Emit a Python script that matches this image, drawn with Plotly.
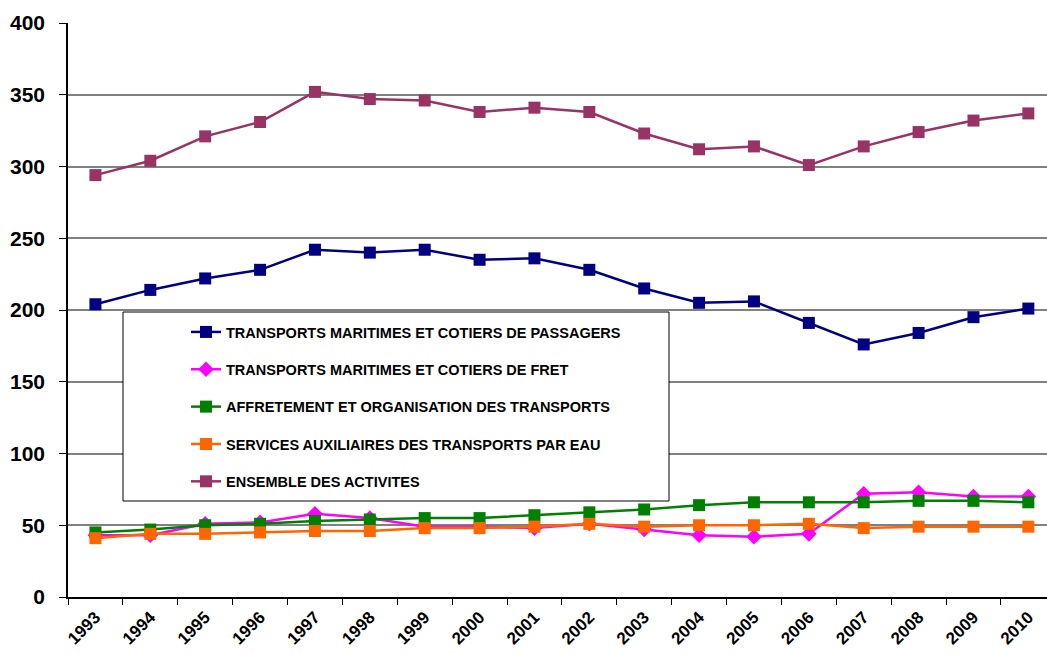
import plotly.graph_objects as go

years = [str(y) for y in range(1993, 2011)]

passagers = [204, 214, 222, 228, 242, 240, 242, 235, 236, 228, 215, 205, 206, 191, 176, 184, 195, 201]
fret = [43, 43, 51, 52, 58, 55, 49, 49, 48, 51, 47, 43, 42, 44, 72, 73, 70, 70]
affretement = [45, 47, 50, 51, 53, 54, 55, 55, 57, 59, 61, 64, 66, 66, 66, 67, 67, 66]
services = [41, 44, 44, 45, 46, 46, 48, 48, 49, 51, 49, 50, 50, 51, 48, 49, 49, 49]
ensemble = [294, 304, 321, 331, 352, 347, 346, 338, 341, 338, 323, 312, 314, 301, 314, 324, 332, 337]

names = [
    "TRANSPORTS MARITIMES ET COTIERS DE PASSAGERS",
    "TRANSPORTS MARITIMES ET COTIERS DE FRET",
    "AFFRETEMENT ET ORGANISATION DES TRANSPORTS",
    "SERVICES AUXILIAIRES DES TRANSPORTS PAR EAU",
    "ENSEMBLE DES ACTIVITES",
]
series = [passagers, fret, affretement, services, ensemble]
colors = ["#000080", "#FF00FF", "#008000", "#FF6600", "#993366"]
symbols = ["square", "diamond", "square", "square", "square"]

fig = go.Figure()
for i, (nm, vals) in enumerate(zip(names, series)):
    fig.add_trace(go.Scatter(
        x=years, y=vals, name=nm, mode="lines+markers",
        legendgroup=str(i),
        line=dict(color=colors[i], width=2.5),
        marker=dict(symbol=symbols[i], size=12, color=colors[i], line=dict(width=0)),
    ))

# cadre de la légende
W, H = 1047, 654
ml, mr, mt, mb = 68, 0, 23, 57
pw, ph = W - ml - mr, H - mt - mb
fig.add_shape(type="rect", xref="paper", yref="paper", layer="above",
              x0=(123 - ml) / pw, x1=(669 - ml) / pw,
              y0=(H - mb - 501) / ph, y1=(H - mb - 312) / ph,
              fillcolor="white", line=dict(color="black", width=1))

fig.update_layout(
    width=W, height=H,
    margin=dict(l=ml, r=mr, t=mt, b=mb),
    plot_bgcolor="white", paper_bgcolor="white",
    font=dict(family="Liberation Sans, Arial", color="black"),
    showlegend=True,
    legend=dict(
        x=(186 - ml) / pw, y=(H - mb - 316) / ph, xanchor="left", yanchor="top",
        bgcolor="rgba(0,0,0,0)", borderwidth=0,
        font=dict(size=14.5, weight="bold"),
        tracegroupgap=15.5,
    ),
    xaxis=dict(
        type="category", range=[-0.5, 17.34], automargin=False,
        showgrid=False, showline=True, linecolor="black", linewidth=1.5,
        ticks="outside", tickson="boundaries", ticklen=6, tickcolor="black",
        tickangle=-45, ticklabelstandoff=2,
        tickfont=dict(size=17, weight="bold"),
    ),
    yaxis=dict(
        range=[0, 400], dtick=50, automargin=False,
        showgrid=True, gridcolor="#808080", gridwidth=1.5,
        zeroline=False,
        showline=True, linecolor="black", linewidth=1.5,
        ticks="outside", ticklen=7, tickcolor="black", ticklabelstandoff=10,
        tickfont=dict(size=21, weight="bold"),
    ),
)

fig.write_html("out.html", config={"displayModeBar": False},
               post_script="document.body.style.margin='0';")
